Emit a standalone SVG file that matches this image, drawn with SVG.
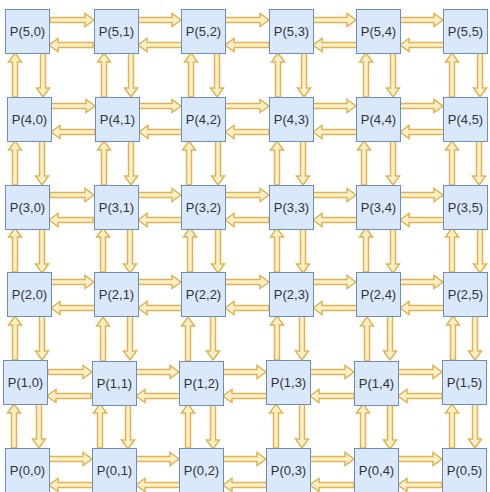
<svg xmlns="http://www.w3.org/2000/svg" width="490" height="492" viewBox="0 0 490 492">
<style>
.n rect{fill:#dae8fc;stroke:#6c8ebf;stroke-width:1}
.n text{font-family:"Liberation Sans",Arial,sans-serif;font-size:13px;fill:#333333;text-anchor:middle}
.c use{fill:#fff0c8;stroke:#dfb352;stroke-width:1.5}
</style>
<defs>
<path id="ar" d="M0,-2.5H35V-6.5L44,0L35,6.5V2.5H0Z"/>
</defs>
<rect width="490" height="492" fill="#ffffff"/>
<g id="connectors" class="c">
<use href="#ar" transform="translate(50,20)"/><use href="#ar" transform="translate(137,20)"/><use href="#ar" transform="translate(225,20)"/><use href="#ar" transform="translate(312,20)"/><use href="#ar" transform="translate(399,20)"/>
<use href="#ar" transform="translate(93,45) rotate(180)"/><use href="#ar" transform="translate(182,45) rotate(180)"/><use href="#ar" transform="translate(269,45) rotate(180)"/><use href="#ar" transform="translate(357,45) rotate(180)"/><use href="#ar" transform="translate(444,45) rotate(180)"/>
<use href="#ar" transform="translate(51,106)"/><use href="#ar" transform="translate(137,106)"/><use href="#ar" transform="translate(225,106)"/><use href="#ar" transform="translate(312,106)"/><use href="#ar" transform="translate(399,106)"/>
<use href="#ar" transform="translate(95,132) rotate(180)"/><use href="#ar" transform="translate(183,132) rotate(180)"/><use href="#ar" transform="translate(269,132) rotate(180)"/><use href="#ar" transform="translate(357,132) rotate(180)"/><use href="#ar" transform="translate(444,132) rotate(180)"/>
<use href="#ar" transform="translate(50,195)"/><use href="#ar" transform="translate(137,195)"/><use href="#ar" transform="translate(225,195)"/><use href="#ar" transform="translate(312,195)"/><use href="#ar" transform="translate(399,195)"/>
<use href="#ar" transform="translate(93,220) rotate(180)"/><use href="#ar" transform="translate(182,220) rotate(180)"/><use href="#ar" transform="translate(269,220) rotate(180)"/><use href="#ar" transform="translate(357,220) rotate(180)"/><use href="#ar" transform="translate(444,220) rotate(180)"/>
<use href="#ar" transform="translate(50,282)"/><use href="#ar" transform="translate(137,282)"/><use href="#ar" transform="translate(225,282)"/><use href="#ar" transform="translate(312,282)"/><use href="#ar" transform="translate(399,282)"/>
<use href="#ar" transform="translate(95,308) rotate(180)"/><use href="#ar" transform="translate(182,308) rotate(180)"/><use href="#ar" transform="translate(269,308) rotate(180)"/><use href="#ar" transform="translate(357,308) rotate(180)"/><use href="#ar" transform="translate(444,308) rotate(180)"/>
<use href="#ar" transform="translate(48,372)"/><use href="#ar" transform="translate(135,372)"/><use href="#ar" transform="translate(222,372)"/><use href="#ar" transform="translate(310,372)"/><use href="#ar" transform="translate(398,372)"/>
<use href="#ar" transform="translate(91,396) rotate(180)"/><use href="#ar" transform="translate(180,396) rotate(180)"/><use href="#ar" transform="translate(267,396) rotate(180)"/><use href="#ar" transform="translate(354,396) rotate(180)"/><use href="#ar" transform="translate(442,396) rotate(180)"/>
<use href="#ar" transform="translate(48,459)"/><use href="#ar" transform="translate(135,459)"/><use href="#ar" transform="translate(222,459)"/><use href="#ar" transform="translate(310,459)"/><use href="#ar" transform="translate(398,459)"/>
<use href="#ar" transform="translate(93,485) rotate(180)"/><use href="#ar" transform="translate(180,485) rotate(180)"/><use href="#ar" transform="translate(267,485) rotate(180)"/><use href="#ar" transform="translate(354,485) rotate(180)"/><use href="#ar" transform="translate(442,485) rotate(180)"/>
<use href="#ar" transform="translate(15,97) rotate(-90)"/><use href="#ar" transform="translate(104,97) rotate(-90)"/><use href="#ar" transform="translate(191,97) rotate(-90)"/><use href="#ar" transform="translate(278,97) rotate(-90)"/><use href="#ar" transform="translate(366,97) rotate(-90)"/><use href="#ar" transform="translate(452,97) rotate(-90)"/>
<use href="#ar" transform="translate(43,53) rotate(90)"/><use href="#ar" transform="translate(131,53) rotate(90)"/><use href="#ar" transform="translate(217,53) rotate(90)"/><use href="#ar" transform="translate(304,53) rotate(90)"/><use href="#ar" transform="translate(393,53) rotate(90)"/><use href="#ar" transform="translate(480,53) rotate(90)"/>
<use href="#ar" transform="translate(15,185) rotate(-90)"/><use href="#ar" transform="translate(104,185) rotate(-90)"/><use href="#ar" transform="translate(189,185) rotate(-90)"/><use href="#ar" transform="translate(277,185) rotate(-90)"/><use href="#ar" transform="translate(364,185) rotate(-90)"/><use href="#ar" transform="translate(452,185) rotate(-90)"/>
<use href="#ar" transform="translate(42,141) rotate(90)"/><use href="#ar" transform="translate(131,141) rotate(90)"/><use href="#ar" transform="translate(218,141) rotate(90)"/><use href="#ar" transform="translate(303,141) rotate(90)"/><use href="#ar" transform="translate(393,141) rotate(90)"/><use href="#ar" transform="translate(479,141) rotate(90)"/>
<use href="#ar" transform="translate(15,272) rotate(-90)"/><use href="#ar" transform="translate(103,272) rotate(-90)"/><use href="#ar" transform="translate(190,272) rotate(-90)"/><use href="#ar" transform="translate(277,272) rotate(-90)"/><use href="#ar" transform="translate(366,272) rotate(-90)"/><use href="#ar" transform="translate(452,272) rotate(-90)"/>
<use href="#ar" transform="translate(42,229) rotate(90)"/><use href="#ar" transform="translate(130,229) rotate(90)"/><use href="#ar" transform="translate(218,229) rotate(90)"/><use href="#ar" transform="translate(303,229) rotate(90)"/><use href="#ar" transform="translate(393,229) rotate(90)"/><use href="#ar" transform="translate(480,229) rotate(90)"/>
<use href="#ar" transform="translate(15,360) rotate(-90)"/><use href="#ar" transform="translate(103,361) rotate(-90)"/><use href="#ar" transform="translate(188,361) rotate(-90)"/><use href="#ar" transform="translate(277,360) rotate(-90)"/><use href="#ar" transform="translate(367,361) rotate(-90)"/><use href="#ar" transform="translate(453,360) rotate(-90)"/>
<use href="#ar" transform="translate(42,316) rotate(90)"/><use href="#ar" transform="translate(130,316) rotate(90)"/><use href="#ar" transform="translate(213,316) rotate(90)"/><use href="#ar" transform="translate(302,316) rotate(90)"/><use href="#ar" transform="translate(390,316) rotate(90)"/><use href="#ar" transform="translate(475,316) rotate(90)"/>
<use href="#ar" transform="translate(14,448) rotate(-90)"/><use href="#ar" transform="translate(100,448) rotate(-90)"/><use href="#ar" transform="translate(188,448) rotate(-90)"/><use href="#ar" transform="translate(276,448) rotate(-90)"/><use href="#ar" transform="translate(363,448) rotate(-90)"/><use href="#ar" transform="translate(452,448) rotate(-90)"/>
<use href="#ar" transform="translate(39,404) rotate(90)"/><use href="#ar" transform="translate(128,405) rotate(90)"/><use href="#ar" transform="translate(213,405) rotate(90)"/><use href="#ar" transform="translate(302,404) rotate(90)"/><use href="#ar" transform="translate(390,405) rotate(90)"/><use href="#ar" transform="translate(475,404) rotate(90)"/>
</g>
<g class="n">
<g id="P50" transform="translate(5,9)"><rect x="0.5" y="0.5" width="44" height="44"/><text x="22.5" y="27">P(5,0)</text></g>
<g id="P51" transform="translate(94,9)"><rect x="0.5" y="0.5" width="44" height="44"/><text x="22.5" y="27">P(5,1)</text></g>
<g id="P52" transform="translate(181,9)"><rect x="0.5" y="0.5" width="44" height="44"/><text x="22.5" y="27">P(5,2)</text></g>
<g id="P53" transform="translate(269,9)"><rect x="0.5" y="0.5" width="44" height="44"/><text x="22.5" y="27">P(5,3)</text></g>
<g id="P54" transform="translate(356,9)"><rect x="0.5" y="0.5" width="44" height="44"/><text x="22.5" y="27">P(5,4)</text></g>
<g id="P55" transform="translate(443,9)"><rect x="0.5" y="0.5" width="44" height="44"/><text x="22.5" y="27">P(5,5)</text></g>
<g id="P40" transform="translate(7,97)"><rect x="0.5" y="0.5" width="44" height="44"/><text x="22.5" y="27">P(4,0)</text></g>
<g id="P41" transform="translate(95,97)"><rect x="0.5" y="0.5" width="44" height="44"/><text x="22.5" y="27">P(4,1)</text></g>
<g id="P42" transform="translate(181,97)"><rect x="0.5" y="0.5" width="44" height="44"/><text x="22.5" y="27">P(4,2)</text></g>
<g id="P43" transform="translate(269,97)"><rect x="0.5" y="0.5" width="44" height="44"/><text x="22.5" y="27">P(4,3)</text></g>
<g id="P44" transform="translate(356,97)"><rect x="0.5" y="0.5" width="44" height="44"/><text x="22.5" y="27">P(4,4)</text></g>
<g id="P45" transform="translate(443,97)"><rect x="0.5" y="0.5" width="44" height="44"/><text x="22.5" y="27">P(4,5)</text></g>
<g id="P30" transform="translate(5,185)"><rect x="0.5" y="0.5" width="44" height="44"/><text x="22.5" y="27">P(3,0)</text></g>
<g id="P31" transform="translate(94,185)"><rect x="0.5" y="0.5" width="44" height="44"/><text x="22.5" y="27">P(3,1)</text></g>
<g id="P32" transform="translate(181,185)"><rect x="0.5" y="0.5" width="44" height="44"/><text x="22.5" y="27">P(3,2)</text></g>
<g id="P33" transform="translate(269,185)"><rect x="0.5" y="0.5" width="44" height="44"/><text x="22.5" y="27">P(3,3)</text></g>
<g id="P34" transform="translate(356,185)"><rect x="0.5" y="0.5" width="44" height="44"/><text x="22.5" y="27">P(3,4)</text></g>
<g id="P35" transform="translate(443,185)"><rect x="0.5" y="0.5" width="44" height="44"/><text x="22.5" y="27">P(3,5)</text></g>
<g id="P20" transform="translate(7,272)"><rect x="0.5" y="0.5" width="44" height="44"/><text x="22.5" y="27">P(2,0)</text></g>
<g id="P21" transform="translate(94,272)"><rect x="0.5" y="0.5" width="44" height="44"/><text x="22.5" y="27">P(2,1)</text></g>
<g id="P22" transform="translate(181,272)"><rect x="0.5" y="0.5" width="44" height="44"/><text x="22.5" y="27">P(2,2)</text></g>
<g id="P23" transform="translate(269,272)"><rect x="0.5" y="0.5" width="44" height="44"/><text x="22.5" y="27">P(2,3)</text></g>
<g id="P24" transform="translate(356,272)"><rect x="0.5" y="0.5" width="44" height="44"/><text x="22.5" y="27">P(2,4)</text></g>
<g id="P25" transform="translate(443,272)"><rect x="0.5" y="0.5" width="44" height="44"/><text x="22.5" y="27">P(2,5)</text></g>
<g id="P10" transform="translate(3,360)"><rect x="0.5" y="0.5" width="44" height="44"/><text x="22.5" y="27">P(1,0)</text></g>
<g id="P11" transform="translate(92,361)"><rect x="0.5" y="0.5" width="44" height="44"/><text x="22.5" y="27">P(1,1)</text></g>
<g id="P12" transform="translate(179,361)"><rect x="0.5" y="0.5" width="44" height="44"/><text x="22.5" y="27">P(1,2)</text></g>
<g id="P13" transform="translate(266,360)"><rect x="0.5" y="0.5" width="44" height="44"/><text x="22.5" y="27">P(1,3)</text></g>
<g id="P14" transform="translate(354,361)"><rect x="0.5" y="0.5" width="44" height="44"/><text x="22.5" y="27">P(1,4)</text></g>
<g id="P15" transform="translate(442,360)"><rect x="0.5" y="0.5" width="44" height="44"/><text x="22.5" y="27">P(1,5)</text></g>
<g id="P00" transform="translate(5,448)"><rect x="0.5" y="0.5" width="44" height="44"/><text x="22.5" y="27">P(0,0)</text></g>
<g id="P01" transform="translate(92,448)"><rect x="0.5" y="0.5" width="44" height="44"/><text x="22.5" y="27">P(0,1)</text></g>
<g id="P02" transform="translate(179,448)"><rect x="0.5" y="0.5" width="44" height="44"/><text x="22.5" y="27">P(0,2)</text></g>
<g id="P03" transform="translate(266,448)"><rect x="0.5" y="0.5" width="44" height="44"/><text x="22.5" y="27">P(0,3)</text></g>
<g id="P04" transform="translate(354,448)"><rect x="0.5" y="0.5" width="44" height="44"/><text x="22.5" y="27">P(0,4)</text></g>
<g id="P05" transform="translate(442,448)"><rect x="0.5" y="0.5" width="44" height="44"/><text x="22.5" y="27">P(0,5)</text></g>
</g>
</svg>
